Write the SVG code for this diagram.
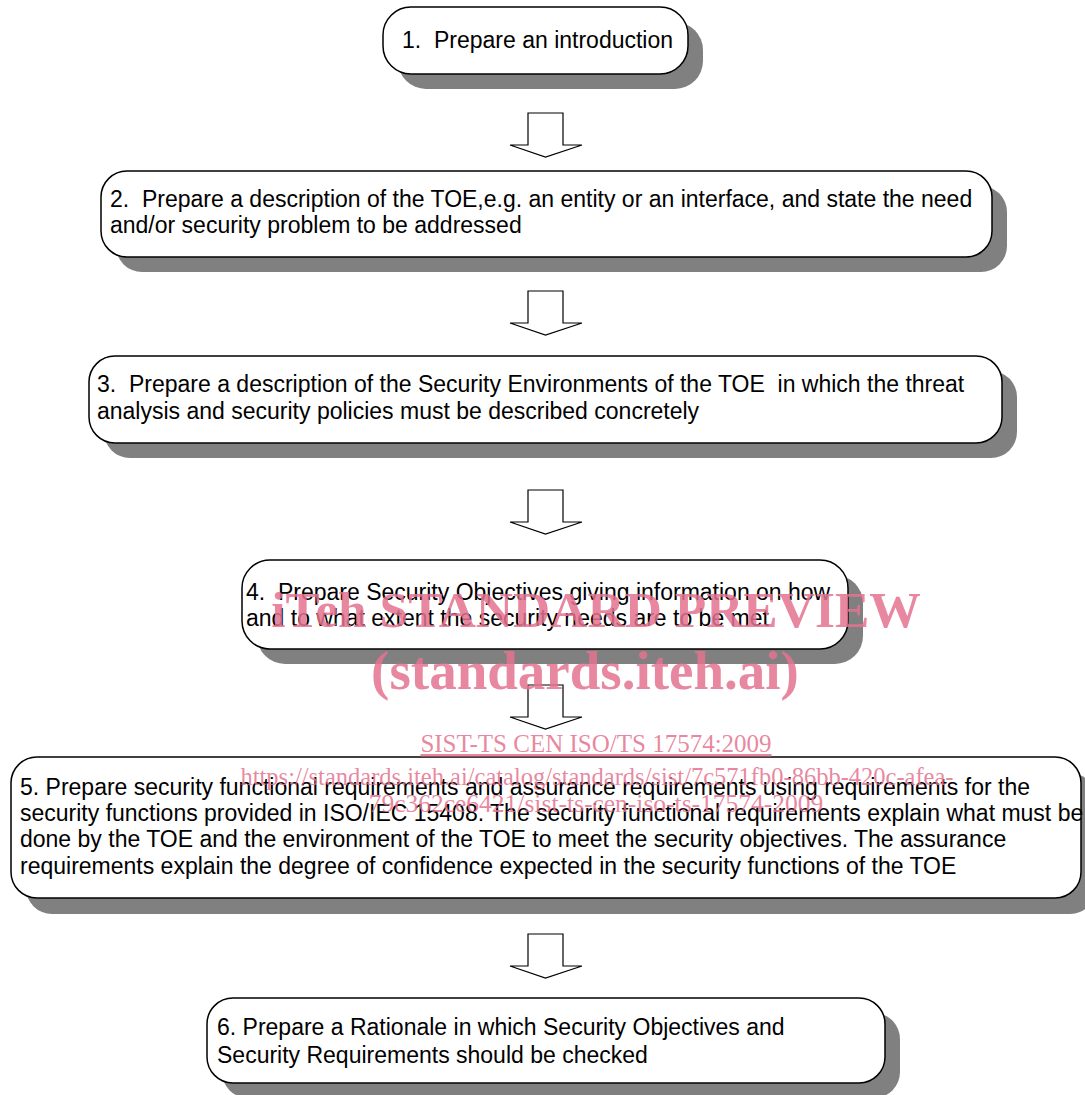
<svg xmlns="http://www.w3.org/2000/svg" width="1085" height="1095" viewBox="0 0 1085 1095">
<style>
.shadow{fill:#808080;stroke:none}
.box{fill:#ffffff;stroke:#000000;stroke-width:1.5}
.t{font-family:"Liberation Sans",Arial,sans-serif;font-size:23px;fill:#000000}
.arr{fill:#ffffff;stroke:#000000;stroke-width:1.2}
.wm{font-family:"Liberation Serif","Times New Roman",serif;fill:#e4728f;fill-opacity:0.85}
</style>
<defs>
<path id="downArrow" d="M528,0 H563 V32 H582 L545.5,44 L510,32 H528 Z"/>
</defs>
<rect width="1085" height="1095" fill="#ffffff"/>
<g id="connectors">
<use href="#downArrow" class="arr" transform="translate(0,113)"/>
<use href="#downArrow" class="arr" transform="translate(0,291)"/>
<use href="#downArrow" class="arr" transform="translate(0,490)"/>
<use href="#downArrow" class="arr" transform="translate(0,685)"/>
<use href="#downArrow" class="arr" transform="translate(0,934)"/>
</g>
<g id="node1">
<rect class="shadow" x="398" y="22" width="305" height="67" rx="28"/>
<rect class="box" x="383" y="7" width="305" height="67" rx="28"/>
<text class="t" x="402" y="48" xml:space="preserve">1.  Prepare an introduction</text>
</g>
<g id="node2">
<rect class="shadow" x="116" y="186" width="891" height="86" rx="26"/>
<rect class="box" x="101" y="171" width="891" height="86" rx="26"/>
<text class="t" x="110" y="207" xml:space="preserve">2.  Prepare a description of the TOE,e.g. an entity or an interface, and state the need</text>
<text class="t" x="110" y="233">and/or security problem to be addressed</text>
</g>
<g id="node3">
<rect class="shadow" x="104" y="371" width="913" height="87" rx="26"/>
<rect class="box" x="89" y="356" width="913" height="87" rx="26"/>
<text class="t" x="97" y="392" xml:space="preserve">3.  Prepare a description of the Security Environments of the TOE  in which the threat</text>
<text class="t" x="97" y="419">analysis and security policies must be described concretely</text>
</g>
<g id="node4">
<rect class="shadow" x="257" y="575" width="606" height="89" rx="28"/>
<rect class="box" x="242" y="560" width="606" height="89" rx="28"/>
<text class="t" x="246" y="600" xml:space="preserve">4.  Prepare Security Objectives giving information on how</text>
<text class="t" x="246" y="626">and to what extent the security needs are to be met</text>
</g>
<g id="node5">
<rect class="shadow" x="26" y="773" width="1070" height="141" rx="26"/>
<rect class="box" x="11" y="757" width="1070" height="141" rx="26"/>
<text class="t" x="20" y="795">5. Prepare security functional requirements and assurance requirements using requirements for the</text>
<text class="t" x="20" y="821">security functions provided in ISO/IEC 15408. The security functional requirements explain what must be</text>
<text class="t" x="20" y="847">done by the TOE and the environment of the TOE to meet the security objectives. The assurance</text>
<text class="t" x="20" y="874">requirements explain the degree of confidence expected in the security functions of the TOE</text>
</g>
<g id="node6">
<rect class="shadow" x="222" y="1013" width="678" height="85" rx="26"/>
<rect class="box" x="207" y="998" width="678" height="85" rx="26"/>
<text class="t" x="217" y="1035">6. Prepare a Rationale in which Security Objectives and</text>
<text class="t" x="217" y="1063">Security Requirements should be checked</text>
</g>
<g id="watermark">
<text class="wm" x="596" y="627" text-anchor="middle" font-size="51.5" font-weight="bold">iTeh STANDARD PREVIEW</text>
<text class="wm" x="585" y="689" text-anchor="middle" font-size="55" font-weight="bold">(standards.iteh.ai)</text>
<text class="wm" x="596" y="752" text-anchor="middle" font-size="25" text-decoration="underline">SIST-TS CEN ISO/TS 17574:2009</text>
<text class="wm" x="597" y="785" text-anchor="middle" font-size="24.5">https://standards.iteh.ai/catalog/standards/sist/7c571fb0-86bb-420c-afea-</text>
<text class="wm" x="596" y="812" text-anchor="middle" font-size="25.5">79c362ce6421/sist-ts-cen-iso-ts-17574-2009</text>
</g>
</svg>
